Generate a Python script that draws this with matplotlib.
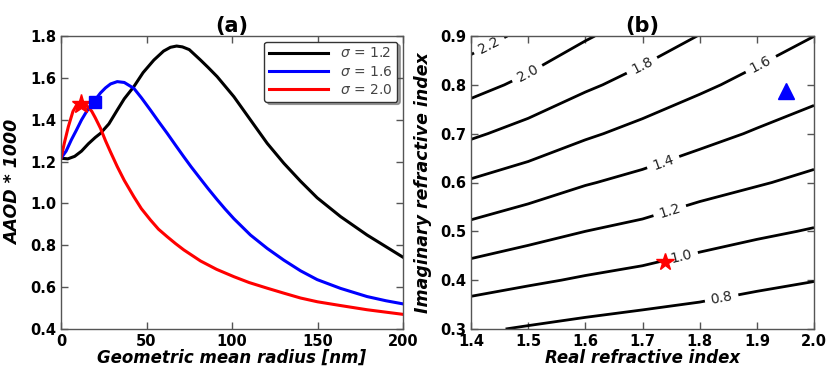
import numpy as np
import matplotlib
matplotlib.use("Agg")
import matplotlib.pyplot as plt

# ---------------- Panel (a) data ----------------
x_s12 = [0, 4, 8, 12, 16, 20, 23.1, 28, 32.9, 37, 42.6, 48, 54.3, 60, 64, 67.6, 71, 75, 81.6, 86, 91.3, 96, 101.1, 110.8, 120.6, 130.3, 140.1, 149.8, 163.5, 179, 200]
y_s12 = [1.216, 1.213, 1.225, 1.25, 1.285, 1.315, 1.335, 1.38, 1.446, 1.50, 1.558, 1.625, 1.685, 1.728, 1.746, 1.752, 1.748, 1.735, 1.685, 1.650, 1.606, 1.56, 1.510, 1.399, 1.287, 1.192, 1.106, 1.027, 0.937, 0.849, 0.743]

x_s16 = [0, 3, 6, 9, 12, 15, 18, 20, 23.1, 26, 29, 32.9, 37, 42.6, 47, 52.3, 57, 62.1, 67, 71.8, 76, 81.6, 86, 91.3, 96, 101.1, 110.8, 120.6, 130.3, 140.1, 149.8, 163.5, 179, 190, 200]
y_s16 = [1.216, 1.25, 1.303, 1.35, 1.399, 1.44, 1.47, 1.495, 1.528, 1.552, 1.571, 1.582, 1.578, 1.55, 1.505, 1.446, 1.392, 1.335, 1.278, 1.223, 1.176, 1.117, 1.071, 1.018, 0.973, 0.927, 0.849, 0.785, 0.729, 0.678, 0.636, 0.594, 0.555, 0.535, 0.520]

x_s20 = [0, 2, 4.3, 7, 9, 11.5, 14, 16, 18, 20, 23.1, 26, 29, 32.9, 37, 42.6, 47, 52.3, 57, 62.1, 67, 71.8, 81.6, 91, 101.1, 110, 120.6, 130, 140.1, 150, 163.5, 179, 200]
y_s20 = [1.216, 1.29, 1.367, 1.44, 1.468, 1.48, 1.475, 1.46, 1.44, 1.41, 1.359, 1.30, 1.245, 1.176, 1.11, 1.032, 0.975, 0.921, 0.877, 0.841, 0.808, 0.778, 0.725, 0.685, 0.650, 0.622, 0.595, 0.572, 0.548, 0.53, 0.512, 0.492, 0.470]

series_labels = [r"$\sigma$ = 1.2", r"$\sigma$ = 1.6", r"$\sigma$ = 2.0"]
series_colors = ["black", "blue", "red"]

star_a = (11.7, 1.477)
square_a = (19.9, 1.487)

# ---------------- Panel (b) data ----------------
real_n = [1.4, 1.5, 1.6, 1.7, 1.8, 1.9, 2.0]
imag_k = [0.3, 0.4, 0.5, 0.6, 0.7, 0.8, 0.9]
# rows: imag_k, columns: real_n
aaod_grid = [
    [0.826, 0.783, 0.744, 0.712, 0.692, 0.655, 0.624],
    [1.086, 1.029, 0.979, 0.937, 0.888, 0.843, 0.805],
    [1.344, 1.269, 1.200, 1.150, 1.083, 1.031, 0.987],
    [1.581, 1.502, 1.413, 1.348, 1.275, 1.215, 1.158],
    [1.829, 1.730, 1.627, 1.542, 1.459, 1.382, 1.315],
    [2.066, 1.953, 1.830, 1.731, 1.634, 1.542, 1.462],
    [2.282, 2.153, 2.019, 1.905, 1.795, 1.696, 1.601],
]
contour_levels = [0.8, 1.0, 1.2, 1.4, 1.6, 1.8, 2.0, 2.2]
label_pos = [(1.838, 0.366), (1.768, 0.448), (1.748, 0.541), (1.737, 0.639),
             (1.908, 0.840), (1.699, 0.840), (1.497, 0.827), (1.433, 0.878)]
star_b = (1.74, 0.438)
triangle_b = (1.951, 0.788)

# ---------------- Figure ----------------
fig = plt.figure(figsize=(8.26, 3.66), dpi=100)
ax1 = fig.add_axes([61/826, 1-329/366, (403-61)/826, (329-36)/366])
ax2 = fig.add_axes([471/826, 1-329/366, (814-471)/826, (329-36)/366])

spine_col = "#555555"

def style_axes(ax):
    for s in ax.spines.values():
        s.set_color(spine_col)
        s.set_linewidth(1.0)
    ax.tick_params(direction="in", top=True, right=True, length=5, width=1,
                   color=spine_col, labelsize=10.5, pad=3.5)
    for lab in ax.get_xticklabels() + ax.get_yticklabels():
        lab.set_fontweight("bold")

for xs, ys, lab, c in zip([x_s12, x_s16, x_s20], [y_s12, y_s16, y_s20], series_labels, series_colors):
    ax1.plot(xs, ys, color=c, lw=2.2, label=lab, solid_joinstyle="round")
ax1.plot(*star_a, marker="*", color="red", markersize=14, markeredgecolor="red")
ax1.plot(*square_a, marker="s", color="blue", markersize=9, markeredgecolor="blue")
ax1.set_xlim(0, 200)
ax1.set_ylim(0.4, 1.8)
ax1.set_xticks([0, 50, 100, 150, 200])
ax1.set_yticks([0.4, 0.6, 0.8, 1.0, 1.2, 1.4, 1.6, 1.8])
ax1.set_yticklabels(["0.4", "0.6", "0.8", "1.0", "1.2", "1.4", "1.6", "1.8"])
style_axes(ax1)
ax1.set_xlabel("Geometric mean radius [nm]", fontsize=12, fontweight="bold", style="italic", labelpad=0)
ax1.set_ylabel("AAOD * 1000", fontsize=12.5, fontweight="bold", style="italic", labelpad=6)
ax1.set_title("(a)", fontsize=15, fontweight="bold", pad=3)
leg = ax1.legend(loc="upper right", fontsize=10, fancybox=True, shadow=True,
                 framealpha=1, edgecolor="#333333", borderaxespad=0.4,
                 handlelength=4.2, handletextpad=0.9, labelspacing=0.3,
                 borderpad=0.35)
for t in leg.get_texts():
    t.set_color("#444444")

X, Y = np.meshgrid(real_n, imag_k)
Z = np.array(aaod_grid)
cs = ax2.contour(X, Y, Z, levels=contour_levels, colors="black", linewidths=2.0)
cl = ax2.clabel(cs, fmt="%.1f", manual=label_pos, inline=True, fontsize=10, inline_spacing=6)
for t in cl:
    t.set_color("#222222")
ax2.plot(*star_b, marker="*", color="red", markersize=13, markeredgecolor="red", zorder=5)
ax2.plot(*triangle_b, marker="^", color="blue", markersize=11, markeredgecolor="blue", zorder=5)
ax2.set_xlim(1.4, 2.0)
ax2.set_ylim(0.3, 0.9)
ax2.set_xticks(real_n)
ax2.set_xticklabels(["1.4", "1.5", "1.6", "1.7", "1.8", "1.9", "2.0"])
ax2.set_yticks(imag_k)
ax2.set_yticklabels(["0.3", "0.4", "0.5", "0.6", "0.7", "0.8", "0.9"])
style_axes(ax2)
ax2.set_xlabel("Real refractive index", fontsize=12, fontweight="bold", style="italic", labelpad=0)
ax2.set_ylabel("Imaginary refractive index", fontsize=12.5, fontweight="bold", style="italic", labelpad=6)
ax2.set_title("(b)", fontsize=15, fontweight="bold", pad=3)

fig.savefig("out.png", dpi=100)
